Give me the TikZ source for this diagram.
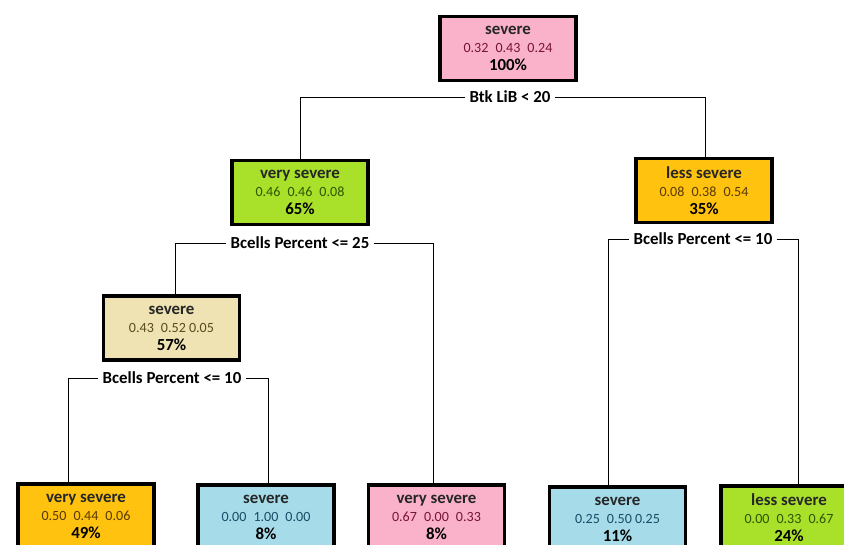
\documentclass[tikz,border=0pt]{standalone}
\usepackage{fontspec}
\setmainfont{Carlito}
\usepackage{tikz}

\definecolor{pinkbox}{HTML}{F9B2CA}
\definecolor{greenbox}{HTML}{A9E02A}
\definecolor{orangebox}{HTML}{FFC20E}
\definecolor{beigebox}{HTML}{EFE2B3}
\definecolor{bluebox}{HTML}{A6DCEA}
\definecolor{pinknum}{HTML}{781434}
\definecolor{greennum}{HTML}{2E5600}
\definecolor{orangenum}{HTML}{583A00}
\definecolor{beigenum}{HTML}{5C4A1E}
\definecolor{bluenum}{HTML}{184C66}
\definecolor{titlegray}{HTML}{262626}

\tikzset{
  leaf/.style={draw=black, line width=2.8pt, minimum width=3.4cm, minimum height=1.6cm,
    align=center, inner sep=0pt, font=\fontsize{12}{12.8}\selectfont},
  split/.style={font=\bfseries\fontsize{12}{13}\selectfont, inner sep=3pt},
  edge/.style={line width=0.7pt}
}
\newcommand{\leafText}[4]{{\bfseries\color{titlegray}#2}\\{\fontsize{10}{12.8}\selectfont\color{#1}#3}\\{\bfseries #4}}

\begin{document}
\begin{tikzpicture}[x=0.025cm,y=-0.025cm]
\useasboundingbox (0,0) rectangle (844,545);
\clip (0,0) rectangle (844,545);
% boxes
\node[leaf,fill=pinkbox] (root) at (508,48.5) {\leafText{pinknum}{severe}{0.32\enspace 0.43\enspace 0.24}{100\%}};
\node[leaf,fill=greenbox] (vsev) at (300,192.5) {\leafText{greennum}{very severe}{0.46\enspace 0.46\enspace 0.08}{65\%}};
\node[leaf,fill=orangebox] (lsev) at (704,190.5) {\leafText{orangenum}{less severe}{0.08\enspace 0.38\enspace 0.54}{35\%}};
\node[leaf,fill=beigebox] (sev) at (171.5,328) {\leafText{beigenum}{severe}{0.43\enspace 0.52 0.05}{57\%}};
\node[leaf,fill=orangebox] (l1) at (86,516) {\leafText{orangenum}{very severe}{0.50\enspace 0.44\enspace 0.06}{49\%}};
\node[leaf,fill=bluebox] (l2) at (266,517) {\leafText{bluenum}{severe}{0.00\enspace 1.00\enspace 0.00}{8\%}};
\node[leaf,fill=pinkbox] (l3) at (436.5,517) {\leafText{pinknum}{very severe}{0.67\enspace 0.00\enspace 0.33}{8\%}};
\node[leaf,fill=bluebox] (l4) at (617.5,519) {\leafText{bluenum}{severe}{0.25\enspace 0.50 0.25}{11\%}};
\node[leaf,fill=greenbox] (l5) at (789,518) {\leafText{greennum}{less severe}{0.00\enspace 0.33\enspace 0.67}{24\%}};
% splits
\node[split] (sp1) at (510,97) {Btk LiB < 20};
\node[split] (sp2) at (300,243) {Bcells Percent <= 25};
\node[split] (sp3) at (703,239) {Bcells Percent <= 10};
\node[split] (sp4) at (172,378) {Bcells Percent <= 10};
\coordinate (sp1l) at (300,97);
\coordinate (sp1r) at (705,97);
\coordinate (sp2l) at (175,243);
\coordinate (sp2r) at (433,243);
\coordinate (sp3l) at (608,239);
\coordinate (sp3r) at (798,239);
\coordinate (sp4l) at (68,378);
\coordinate (sp4r) at (268,378);
% connectors
\draw[edge] (sp1.west) -- (sp1l) -- (sp1l |- vsev.north);
\draw[edge] (sp1.east) -- (sp1r) -- (sp1r |- lsev.north);
\draw[edge] (sp2.west) -- (sp2l) -- (sp2l |- sev.north);
\draw[edge] (sp2.east) -- (sp2r) -- (sp2r |- l3.north);
\draw[edge] (sp3.west) -- (sp3l) -- (sp3l |- l4.north);
\draw[edge] (sp3.east) -- (sp3r) -- (sp3r |- l5.north);
\draw[edge] (sp4.west) -- (sp4l) -- (sp4l |- l1.north);
\draw[edge] (sp4.east) -- (sp4r) -- (sp4r |- l2.north);
\end{tikzpicture}
\end{document}
